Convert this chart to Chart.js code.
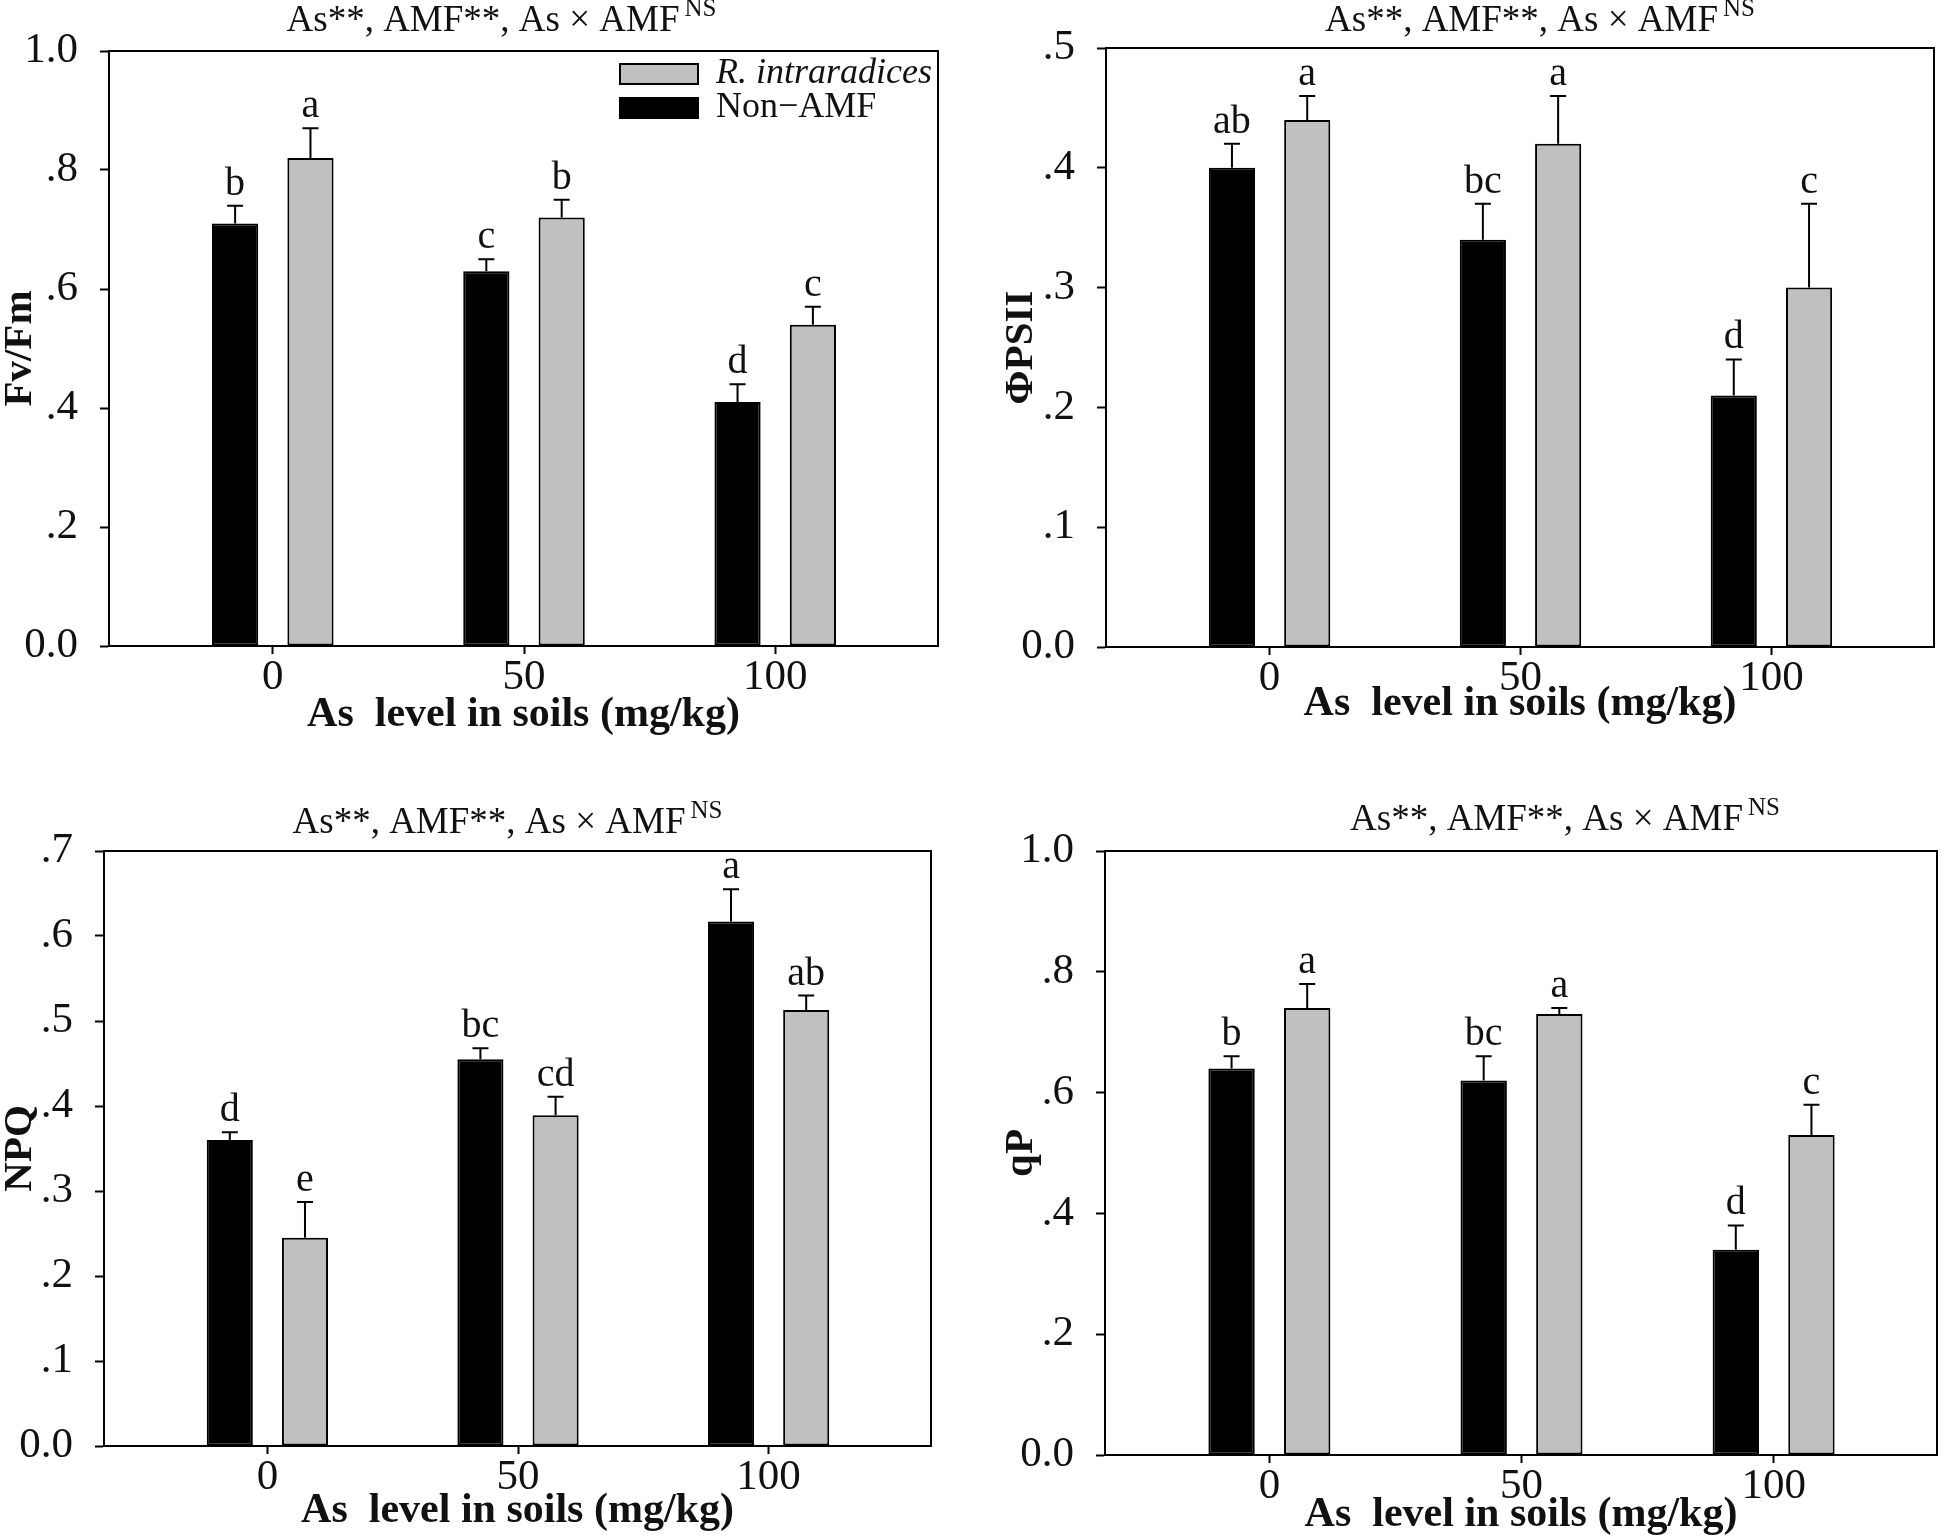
<!DOCTYPE html>
<html>
<head>
<meta charset="utf-8">
<script src="https://cdn.jsdelivr.net/npm/chart.js@4.4.0/dist/chart.umd.min.js"></script>
<style>
  body { margin: 0; background: #fff; }
  #wrap { position: relative; width: 1944px; height: 1538px; background: #fff; }
  canvas { position: absolute; }
</style>
</head>
<body>
<div id="wrap">
  <canvas id="c1" width="970" height="740" style="left:0px;top:0px"></canvas>
  <canvas id="c2" width="944" height="740" style="left:1000px;top:0px"></canvas>
  <canvas id="c3" width="970" height="758" style="left:0px;top:780px"></canvas>
  <canvas id="c4" width="944" height="758" style="left:1000px;top:780px"></canvas>
</div>
<script>
// As level in soils (mg/kg)
var asLevels = [0, 50, 100];
var xTickLabels = ['0', '50', '100'];
var nonLabel = 'Non\u2212AMF';
var amfLabel = 'R. intraradices';

// Fv/Fm
var fvfmNon = [0.71, 0.63, 0.41];
var fvfmNonErr = [0.03, 0.02, 0.03];
var fvfmAmf = [0.82, 0.72, 0.54];
var fvfmAmfErr = [0.05, 0.03, 0.03];
var fvfmNonLetters = ['b', 'c', 'd'];
var fvfmAmfLetters = ['a', 'b', 'c'];
var fvfmTicks = ['0.0', '.2', '.4', '.6', '.8', '1.0'];

// PhiPSII
var psiiNon = [0.40, 0.34, 0.21];
var psiiNonErr = [0.02, 0.03, 0.03];
var psiiAmf = [0.44, 0.42, 0.30];
var psiiAmfErr = [0.02, 0.04, 0.07];
var psiiNonLetters = ['ab', 'bc', 'd'];
var psiiAmfLetters = ['a', 'a', 'c'];
var psiiTicks = ['0.0', '.1', '.2', '.3', '.4', '.5'];

// NPQ
var npqNon = [0.360, 0.455, 0.617];
var npqNonErr = [0.009, 0.013, 0.038];
var npqAmf = [0.245, 0.389, 0.513];
var npqAmfErr = [0.042, 0.022, 0.017];
var npqNonLetters = ['d', 'bc', 'a'];
var npqAmfLetters = ['e', 'cd', 'ab'];
var npqTicks = ['0.0', '.1', '.2', '.3', '.4', '.5', '.6', '.7'];

// qP
var qpNon = [0.64, 0.62, 0.34];
var qpNonErr = [0.02, 0.04, 0.04];
var qpAmf = [0.74, 0.73, 0.53];
var qpAmfErr = [0.04, 0.01, 0.05];
var qpNonLetters = ['b', 'bc', 'd'];
var qpAmfLetters = ['a', 'a', 'c'];
var qpTicks = ['0.0', '.2', '.4', '.6', '.8', '1.0'];

var sigText = 'As**, AMF**, As \u00d7 AMF';
var sigSup = 'NS';
var serif = '"Liberation Serif", "Times New Roman", serif';

// error bars (upper only) and letters above them
var errorBars = {
  id: 'errorBars',
  afterDatasetsDraw: function (chart) {
    var ctx = chart.ctx, y = chart.scales.y;
    chart.data.datasets.forEach(function (ds, di) {
      var meta = chart.getDatasetMeta(di);
      meta.data.forEach(function (bar, i) {
        var top = y.getPixelForValue(ds.data[i].y + ds.errors[i]);
        ctx.save();
        ctx.strokeStyle = '#000';
        ctx.lineWidth = 2;
        ctx.beginPath();
        ctx.moveTo(bar.x, bar.y);
        ctx.lineTo(bar.x, top);
        ctx.moveTo(bar.x - 8, top);
        ctx.lineTo(bar.x + 8, top);
        ctx.stroke();
        ctx.fillStyle = '#111';
        ctx.font = '40px ' + serif;
        ctx.textAlign = 'center';
        ctx.textBaseline = 'alphabetic';
        ctx.fillText(ds.letters[i], bar.x, top - 11);
        ctx.restore();
      });
    });
  }
};

// top/right sides of the frame, title with superscript, legend box
var frameAndText = {
  id: 'frameAndText',
  afterDraw: function (chart, args, opts) {
    var ctx = chart.ctx, a = chart.chartArea;
    ctx.save();
    ctx.strokeStyle = '#000';
    ctx.lineWidth = 2;
    ctx.beginPath();
    ctx.moveTo(a.left, a.top);
    ctx.lineTo(a.right, a.top);
    ctx.lineTo(a.right, a.bottom);
    ctx.stroke();

    // significance title
    ctx.fillStyle = '#111';
    ctx.textBaseline = 'middle';
    ctx.textAlign = 'left';
    ctx.font = '37px ' + serif;
    var w1 = ctx.measureText(sigText).width;
    ctx.font = '25px ' + serif;
    var w2 = ctx.measureText(sigSup).width;
    var x0 = (a.left + a.right) / 2 + opts.dx - (w1 + w2 + 5) / 2;
    ctx.font = '37px ' + serif;
    ctx.fillText(sigText, x0, opts.ty);
    ctx.font = '25px ' + serif;
    ctx.fillText(sigSup, x0 + w1 + 5, opts.ty - 12);

    if (opts.legend) {
      var rows = chart.data.datasets.slice().reverse();
      rows.forEach(function (ds, k) {
        var cy = a.top + 23 + k * 34;
        var bx = a.right - 318;
        ctx.fillStyle = ds.backgroundColor;
        ctx.fillRect(bx, cy - 10, 78, 20);
        ctx.strokeRect(bx, cy - 10, 78, 20);
        ctx.fillStyle = '#111';
        ctx.font = (ds.italic ? 'italic ' : '') + '36px ' + serif;
        ctx.fillText(ds.label, bx + 96, cy);
      });
    }
    ctx.restore();
  }
};

function makePanel(id, p) {
  var ctx = document.getElementById(id).getContext('2d');
  return new Chart(ctx, {
    type: 'bar',
    data: {
      datasets: [{
        label: nonLabel,
        data: asLevels.map(function (x, i) { return { x: x, y: p.non[i] }; }),
        errors: p.nonErr,
        letters: p.nonLetters,
        backgroundColor: '#000000',
        borderColor: '#000000',
        borderWidth: 2,
        borderSkipped: false
      }, {
        label: amfLabel,
        italic: true,
        data: asLevels.map(function (x, i) { return { x: x, y: p.amf[i] }; }),
        errors: p.amfErr,
        letters: p.amfLetters,
        backgroundColor: '#c0c0c0',
        borderColor: '#000000',
        borderWidth: 2,
        borderSkipped: false
      }]
    },
    options: {
      responsive: false,
      animation: false,
      categoryPercentage: 0.6,
      barPercentage: 0.613,
      layout: { padding: { left: 0, top: p.top, right: p.right, bottom: 0 } },
      plugins: {
        legend: { display: false },
        tooltip: { enabled: false },
        frameAndText: { dx: p.dx, ty: p.ty, legend: !!p.legend }
      },
      scales: {
        x: {
          type: 'linear',
          min: -32.6,
          max: 132.4,
          offset: false,
          grid: { offset: false, drawOnChartArea: false, drawTicks: true, tickLength: 8, tickWidth: 2, tickColor: '#000' },
          border: { display: true, color: '#000', width: 2 },
          afterBuildTicks: function (s) { s.ticks = asLevels.map(function (v) { return { value: v }; }); },
          afterFit: function (s) { s.height = p.xHeight; },
          ticks: {
            autoSkip: false,
            maxRotation: 0,
            padding: 2,
            color: '#111',
            font: { family: serif, size: 43, lineHeight: 1 },
            callback: function (v, i) { return xTickLabels[i]; }
          },
          title: {
            display: true,
            text: 'As  level in soils (mg/kg)',
            color: '#111',
            font: { family: serif, size: 42, weight: 'bold', lineHeight: 1 },
            padding: { top: 0, bottom: p.xTitlePad }
          }
        },
        y: {
          min: 0,
          max: p.max,
          grid: { drawOnChartArea: false, drawTicks: true, tickLength: 9, tickWidth: 2, tickColor: '#000' },
          border: { display: true, color: '#000', width: 2 },
          afterFit: function (s) { s.width = p.yWidth; },
          ticks: {
            stepSize: p.step,
            padding: 22,
            color: '#111',
            font: { family: serif, size: 43, lineHeight: 1 },
            callback: function (v, i) { return p.yTicks[i]; }
          },
          title: {
            display: true,
            text: p.yTitle,
            color: '#111',
            font: { family: serif, size: 41, weight: 'bold', lineHeight: 1 },
            padding: { top: p.yTitlePad, bottom: 0 }
          }
        }
      }
    },
    plugins: [errorBars, frameAndText]
  });
}

makePanel('c1', {
  non: fvfmNon, nonErr: fvfmNonErr, amf: fvfmAmf, amfErr: fvfmAmfErr,
  nonLetters: fvfmNonLetters, amfLetters: fvfmAmfLetters,
  yTicks: fvfmTicks, max: 1.0, step: 0.2, yTitle: 'Fv/Fm',
  top: 51, right: 32, yWidth: 109, xHeight: 94, xTitlePad: 4, yTitlePad: 0,
  dx: -22, ty: 21, legend: true
});

makePanel('c2', {
  non: psiiNon, nonErr: psiiNonErr, amf: psiiAmf, amfErr: psiiAmfErr,
  nonLetters: psiiNonLetters, amfLetters: psiiAmfLetters,
  yTicks: psiiTicks, max: 0.5, step: 0.1, yTitle: '\u03a6PSII',
  top: 48, right: 10, yWidth: 106, xHeight: 93, xTitlePad: 15, yTitlePad: 1,
  dx: 20, ty: 21
});

makePanel('c3', {
  non: npqNon, nonErr: npqNonErr, amf: npqAmf, amfErr: npqAmfErr,
  nonLetters: npqNonLetters, amfLetters: npqAmfLetters,
  yTicks: npqTicks, max: 0.7, step: 0.1, yTitle: 'NPQ',
  top: 71, right: 39, yWidth: 104, xHeight: 92, xTitlePad: 6, yTitlePad: 0,
  dx: -10, ty: 43
});

makePanel('c4', {
  non: qpNon, nonErr: qpNonErr, amf: qpAmf, amfErr: qpAmfErr,
  nonLetters: qpNonLetters, amfLetters: qpAmfLetters,
  yTicks: qpTicks, max: 1.0, step: 0.2, yTitle: 'qP',
  top: 71, right: 7, yWidth: 105, xHeight: 83, xTitlePad: 2, yTitlePad: 1,
  dx: 44, ty: 40
});
</script>
</body>
</html>
